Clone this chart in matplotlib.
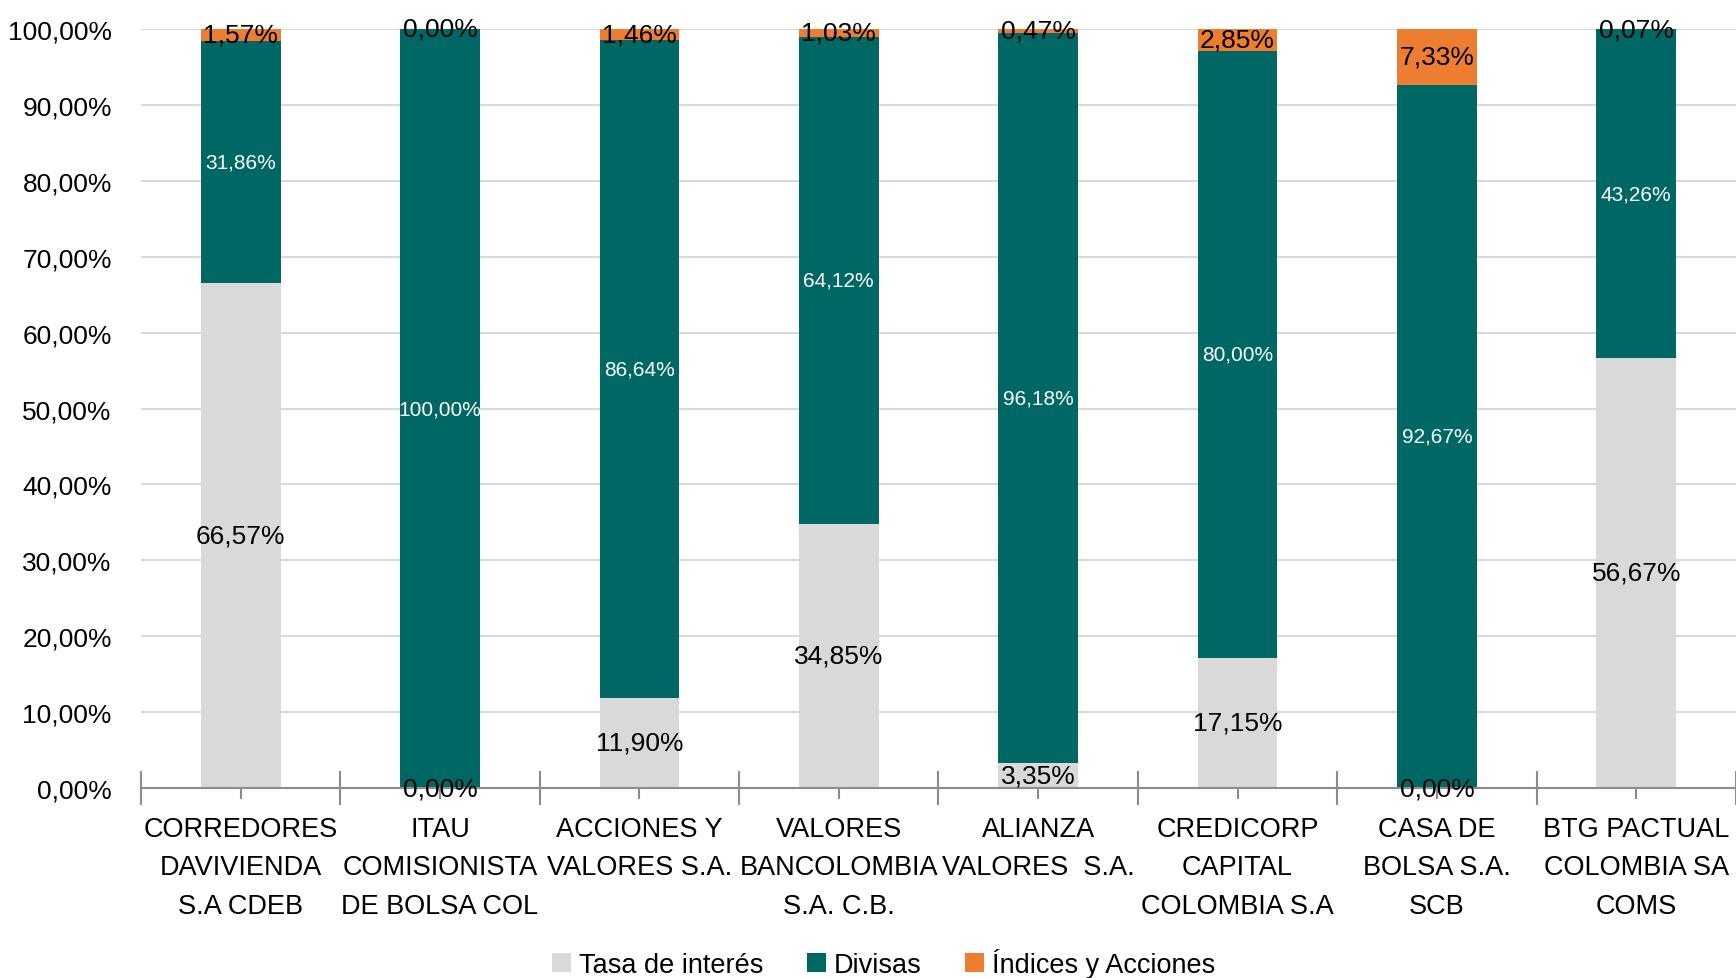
import numpy as np
import matplotlib.pyplot as plt
from matplotlib.ticker import FixedLocator, FuncFormatter

plt.rcParams['font.family'] = ['Liberation Sans Narrow', 'Liberation Sans', 'DejaVu Sans']
plt.rcParams['font.stretch'] = 'condensed'

# Datos
firmas = ['CORREDORES\nDAVIVIENDA\nS.A CDEB', 'ITAU\nCOMISIONISTA\nDE BOLSA COL',
          'ACCIONES Y\nVALORES S.A.', 'VALORES\nBANCOLOMBIA\nS.A. C.B.',
          'ALIANZA\nVALORES  S.A.', 'CREDICORP\nCAPITAL\nCOLOMBIA S.A',
          'CASA DE\nBOLSA S.A.\nSCB', 'BTG PACTUAL\nCOLOMBIA SA\nCOMS']
tasa = np.array([66.57, 0.00, 11.90, 34.85, 3.35, 17.15, 0.00, 56.67])
divisas = np.array([31.86, 100.00, 86.64, 64.12, 96.18, 80.00, 92.67, 43.26])
indices = np.array([1.57, 0.00, 1.46, 1.03, 0.47, 2.85, 7.33, 0.07])

c_tasa = '#D9D9D9'
c_div = '#006864'
c_ind = '#ED7D31'

def fmt(v):
    return '{:.2f}%'.format(v).replace('.', ',')

fig = plt.figure(figsize=(17.36, 9.79), dpi=100)
ax = fig.add_axes([0.0812, 0.194, 0.9188, 0.7754])

x = np.arange(len(firmas))
w = 0.40
b1 = ax.bar(x, tasa, w, color=c_tasa, label='Tasa de interés', zorder=2)
b2 = ax.bar(x, divisas, w, bottom=tasa, color=c_div, label='Divisas', zorder=2)
b3 = ax.bar(x, indices, w, bottom=tasa + divisas, color=c_ind, label='Índices y Acciones', zorder=2)

# Etiquetas de datos
for i in range(len(x)):
    ax.text(x[i], tasa[i] / 2, fmt(tasa[i]), ha='center', va='center',
            fontsize=19, color='black', zorder=3, clip_on=False)
    ax.text(x[i], tasa[i] + divisas[i] / 2, fmt(divisas[i]), ha='center', va='center',
            fontsize=15, color='white', zorder=3)
    ax.text(x[i], tasa[i] + divisas[i] + indices[i] / 2, fmt(indices[i]), ha='center',
            va='center', fontsize=19, color='black', zorder=3, clip_on=False)

ax.set_xlim(-0.5, len(x) - 0.5)
ax.set_ylim(0, 100)
ax.set_yticks(np.arange(0, 101, 10))
ax.yaxis.set_major_formatter(FuncFormatter(lambda v, p: fmt(v)))
ax.yaxis.grid(True, color='#D9D9D9', linewidth=1.5, zorder=0)
ax.set_axisbelow(True)
ax.tick_params(axis='y', length=0, labelsize=19, pad=21)

ax.set_xticks(x)
ax.set_xticklabels(firmas, fontsize=19.5, linespacing=1.62)
ax.xaxis.set_minor_locator(FixedLocator(np.arange(-0.5, len(x), 1)))
ax.tick_params(axis='x', which='major', direction='inout', length=16, color='#8C8C8C',
               width=1.5, pad=12)
ax.tick_params(axis='x', which='minor', direction='inout', length=24, color='#8C8C8C',
               width=1.5)

for s in ['top', 'right', 'left']:
    ax.spines[s].set_visible(False)
ax.spines['bottom'].set_color('#8C8C8C')
ax.spines['bottom'].set_linewidth(1.5)

fig.legend(handles=[b1, b2, b3], loc='center', bbox_to_anchor=(0.509, 0.015), ncol=3,
           frameon=False, fontsize=19.5, handlelength=0.7, handleheight=0.7,
           handletextpad=0.3, columnspacing=1.6)

fig.savefig('out.png', dpi=100)
